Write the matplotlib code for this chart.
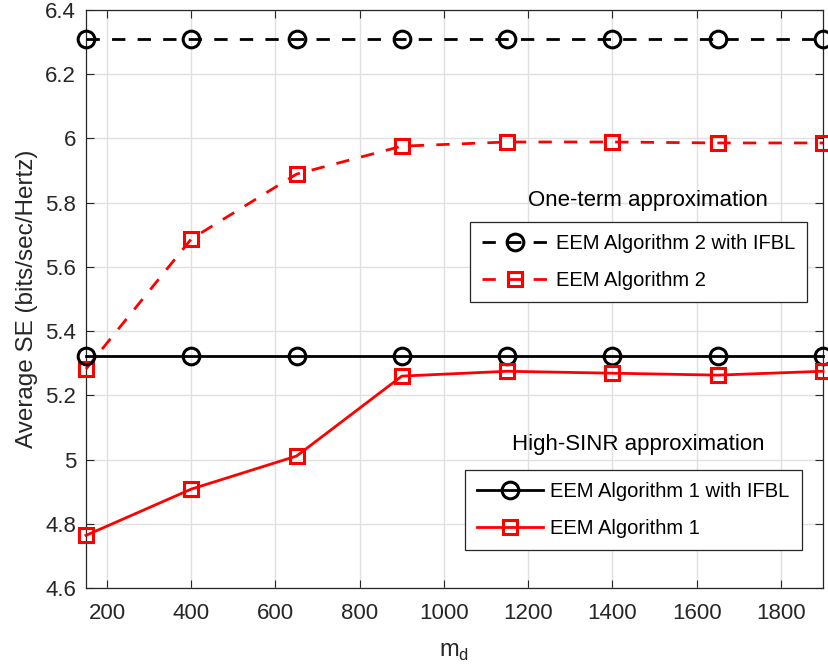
import matplotlib
matplotlib.use("Agg")
import matplotlib.pyplot as plt

plt.rcParams['font.family'] = ['Liberation Sans', 'DejaVu Sans']

md = [150, 400, 650, 900, 1150, 1400, 1650, 1900]
alg2_ifbl = [6.31, 6.31, 6.31, 6.31, 6.31, 6.31, 6.31, 6.31]
alg2 = [5.282, 5.687, 5.889, 5.976, 5.989, 5.989, 5.986, 5.986]
alg1_ifbl = [5.322, 5.322, 5.322, 5.322, 5.322, 5.322, 5.322, 5.322]
alg1 = [4.764, 4.908, 5.011, 5.260, 5.275, 5.269, 5.263, 5.275]

xticks = [200, 400, 600, 800, 1000, 1200, 1400, 1600, 1800]
yticks = [4.6, 4.8, 5.0, 5.2, 5.4, 5.6, 5.8, 6.0, 6.2, 6.4]
yticklabels = ['4.6', '4.8', '5', '5.2', '5.4', '5.6', '5.8', '6', '6.2', '6.4']

fig = plt.figure(figsize=(8.29, 6.67), dpi=100)
ax = fig.add_axes([0.1037, 0.1184, 0.8891, 0.8666])

lw = 2.0
dash = (4.8, 4.4)
l1, = ax.plot(md, alg2_ifbl, '--', color='black', lw=lw, marker='o', ms=12,
              mfc='none', mew=2.2, dashes=dash, clip_on=False, zorder=3)
l2, = ax.plot(md, alg2, '--', color='red', lw=lw, marker='s', ms=9.5,
              mfc='none', mew=2.2, dashes=dash, clip_on=False, zorder=3)
l3, = ax.plot(md, alg1_ifbl, '-', color='black', lw=lw, marker='o', ms=12,
              mfc='none', mew=2.2, clip_on=False, zorder=3)
l4, = ax.plot(md, alg1, '-', color='red', lw=lw, marker='s', ms=9.5,
              mfc='none', mew=2.2, clip_on=False, zorder=3)

ax.set_xlim(150, 1900)
ax.set_ylim(4.6, 6.4)
ax.set_xticks(xticks)
ax.set_yticks(yticks)
ax.set_yticklabels(yticklabels)
ax.grid(True, color='#e0e0e0', lw=1.0)
ax.set_axisbelow(True)
ax.tick_params(direction='in', top=True, right=True, labelsize=16,
               colors='#262626', length=6, width=0.8, pad=7)
ax.tick_params(axis='x', pad=11)
for s in ax.spines.values():
    s.set_color('#262626')
    s.set_linewidth(0.9)

ax.set_xlabel('m$_\\mathregular{d}$', fontsize=17, color='#262626', labelpad=12)
ax.set_ylabel('Average SE (bits/sec/Hertz)', fontsize=17.5, color='#262626', labelpad=5)

leg_kw = dict(fontsize=14.5, frameon=True, fancybox=False, edgecolor='#262626',
              handlelength=3.3, borderpad=0.6, labelspacing=0.9, handletextpad=0.35,
              borderaxespad=0, framealpha=1)
leg1 = ax.legend([l1, l2], ['EEM Algorithm 2 with IFBL', 'EEM Algorithm 2'],
                 loc='upper left', bbox_to_anchor=(0.521, 0.633), **leg_kw)
leg1.get_frame().set_linewidth(0.9)
ax.add_artist(leg1)
leg2 = ax.legend([l3, l4], ['EEM Algorithm 1 with IFBL', 'EEM Algorithm 1'],
                 loc='upper left', bbox_to_anchor=(0.514, 0.204), **leg_kw)
leg2.get_frame().set_linewidth(0.9)

ax.text(0.7626, 0.671, 'One-term approximation', transform=ax.transAxes,
        ha='center', va='center', fontsize=16)
ax.text(0.749, 0.249, 'High-SINR approximation', transform=ax.transAxes,
        ha='center', va='center', fontsize=16)

fig.savefig('out.png', dpi=100)
